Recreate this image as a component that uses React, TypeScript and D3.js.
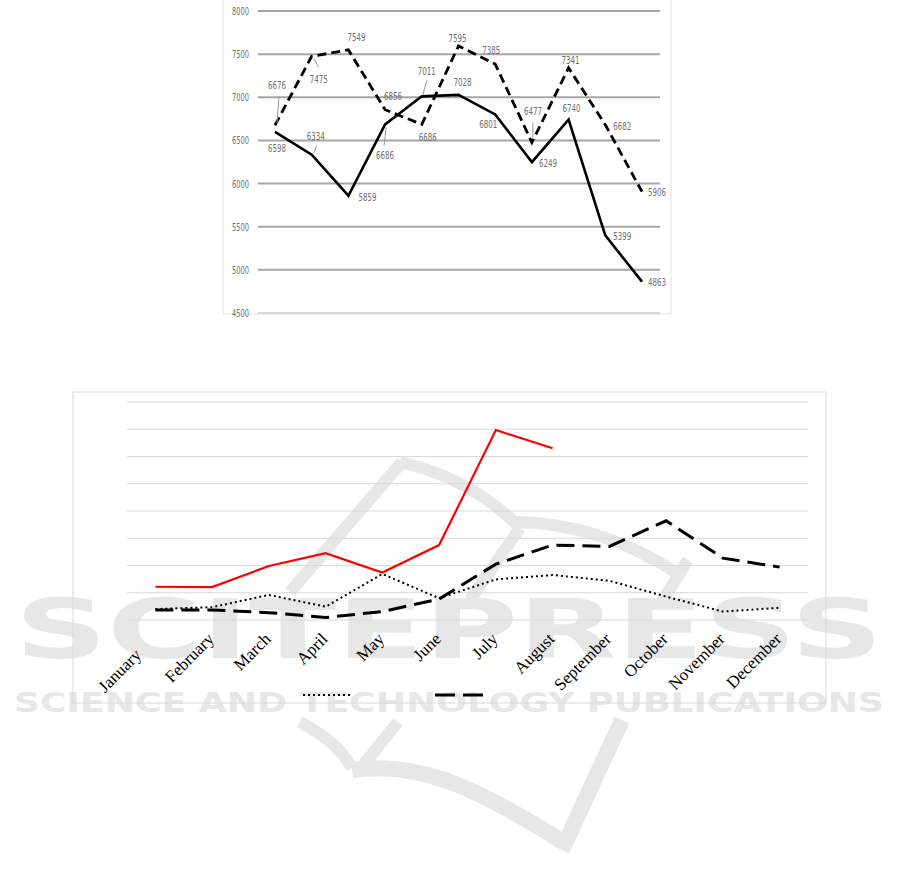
import React from "react";
import * as d3 from "d3";

// ---------- data ----------
const topTicks = [4500, 5000, 5500, 6000, 6500, 7000, 7500, 8000];
const topSolid = [6598, 6334, 5859, 6686, 7011, 7028, 6801, 6249, 6740, 5399, 4863];
const topDashed = [6676, 7475, 7549, 6856, 6686, 7595, 7385, 6477, 7341, 6682, 5906];

const months = [
  "January", "February", "March", "April", "May", "June",
  "July", "August", "September", "October", "November", "December",
];
const redSeries = [1220, 1210, 1980, 2450, 1740, 2750, 6970, 6300];
const dottedSeries = [400, 470, 920, 490, 1690, 800, 1490, 1650, 1440, 860, 310, 450];
const dashedSeries = [370, 370, 270, 90, 310, 770, 2050, 2750, 2700, 3640, 2270, 1940];

// ---------- layout (label offsets relative to points) ----------
const solidLabelOff: [number, number][] = [
  [2, 16], [4, -19], [19, 1], [0, 31], [5, -25], [4, -13], [-7, 10], [16, 1], [3, -12], [17, 1], [15, 0],
];
const dashedLabelOff: [number, number][] = [
  [2, -40], [7, 23], [8, -13], [8, -14], [6, 13], [-1, -8], [-4, -14], [1, -31], [2, -8], [17, 1], [15, 0],
];
const solidLeaders: { i: number; r: [number, number, number, number] }[] = [
  { i: 1, r: [5, -9, 2, -2] },
  { i: 3, r: [1, 3, -1, 21] },
  { i: 4, r: [1, -1, 5, -16] },
];
const dashedLeaders: { i: number; r: [number, number, number, number] }[] = [
  { i: 0, r: [4, -29, 2, -2] },
  { i: 1, r: [2, 2, 7, 11] },
  { i: 7, r: [1, -20, 1, -5] },
];

export default function App() {
  // top chart scales
  const tx = d3.scalePoint<number>().domain(d3.range(topSolid.length)).range([275, 642]);
  const ty = d3.scaleLinear().domain([4500, 8000]).range([313, 11]);
  const tLine = d3
    .line<number>()
    .x((_, i) => tx(i) as number)
    .y((d) => ty(d));

  // bottom chart scales
  const bx = d3.scaleBand<string>().domain(months).range([127, 808]);
  const bc = (i: number) => (bx(months[i]) as number) + bx.bandwidth() / 2;
  const by = d3.scaleLinear().domain([0, 8000]).range([620, 402]);
  const bLine = d3
    .line<number>()
    .x((_, i) => bc(i))
    .y((d) => by(d));

  const labelFont = "'DejaVu Sans Condensed', 'DejaVu Sans', sans-serif";
  const labelColor = "#707070";
  const wm = "#e6e7e6";

  const dataLabel = (v: number, x: number, y: number, key: string) => (
    <text
      key={key}
      x={x}
      y={y}
      dy="0.36em"
      textAnchor="middle"
      fontFamily={labelFont}
      fontSize={11}
      fill={labelColor}
      textLength={18}
      lengthAdjust="spacingAndGlyphs"
    >
      {v}
    </text>
  );

  return (
    <svg
      width={901}
      height={887}
      style={{ position: "absolute", left: 0, top: 0, background: "#fff" }}
    >
      {/* watermark */}
      <g>
        <text
          x={15}
          y={658}
          fontFamily="'DejaVu Sans', sans-serif"
          fontWeight="bold"
          fontSize={82}
          fill={wm}
          textLength={868}
          lengthAdjust="spacingAndGlyphs"
        >
          SCITEPRESS
        </text>
        <text
          x={14}
          y={712}
          fontFamily="'DejaVu Sans', sans-serif"
          fontWeight="bold"
          fontSize={26}
          fill={wm}
          textLength={870}
          lengthAdjust="spacingAndGlyphs"
        >
          SCIENCE AND TECHNOLOGY PUBLICATIONS
        </text>
        <g fill="none" stroke={wm} strokeWidth={12}>
          <path d="M402,462 L290,592" />
          <path d="M400,462 Q470,478 517,525" />
          <path d="M512,522 Q600,522 680,575" />
          <path d="M520,528 L470,600" />
          <path d="M688,560 L660,605" />
          <path d="M300,722 Q338,742 352,768" />
          <path d="M398,722 L364,764" />
          <path d="M352,770 C420,760 480,790 560,840" strokeWidth={16} />
          <path d="M622,720 L562,850" strokeWidth={16} />
        </g>
      </g>

      {/* ---------- top chart ---------- */}
      <rect x={223} y={-2} width={448} height={316} fill="none" stroke="#e2e2e2" strokeWidth={1} />
      {topTicks.map((t) => (
        <g key={t}>
          <line
            x1={258}
            x2={660}
            y1={ty(t)}
            y2={ty(t)}
            stroke={t === 4500 ? "#d9d9d9" : "#a6a6a6"}
            strokeWidth={2}
          />
          <text
            x={249}
            y={ty(t)}
            dy="0.36em"
            textAnchor="end"
            fontFamily={labelFont}
            fontSize={11}
            fill={labelColor}
            textLength={17}
            lengthAdjust="spacingAndGlyphs"
          >
            {t}
          </text>
        </g>
      ))}
      <path d={tLine(topDashed) || ""} fill="none" stroke="#000" strokeWidth={2.8} strokeDasharray="9,5" />
      <path d={tLine(topSolid) || ""} fill="none" stroke="#000" strokeWidth={2.6} strokeLinejoin="miter" />
      {solidLeaders.map(({ i, r }) => (
        <line
          key={"sl" + i}
          x1={(tx(i) as number) + r[0]}
          y1={ty(topSolid[i]) + r[1]}
          x2={(tx(i) as number) + r[2]}
          y2={ty(topSolid[i]) + r[3]}
          stroke="#9a9a9a"
          strokeWidth={1}
        />
      ))}
      {dashedLeaders.map(({ i, r }) => (
        <line
          key={"dl" + i}
          x1={(tx(i) as number) + r[0]}
          y1={ty(topDashed[i]) + r[1]}
          x2={(tx(i) as number) + r[2]}
          y2={ty(topDashed[i]) + r[3]}
          stroke="#9a9a9a"
          strokeWidth={1}
        />
      ))}
      {topSolid.map((v, i) =>
        dataLabel(v, (tx(i) as number) + solidLabelOff[i][0], ty(v) + solidLabelOff[i][1], "s" + i)
      )}
      {topDashed.map((v, i) =>
        dataLabel(v, (tx(i) as number) + dashedLabelOff[i][0], ty(v) + dashedLabelOff[i][1], "d" + i)
      )}

      {/* ---------- bottom chart ---------- */}
      <rect x={73} y={392} width={753} height={311} fill="none" stroke="#d9d9d9" strokeWidth={1} />
      {by.ticks(8).map((t) => (
        <line key={t} x1={127} x2={808} y1={by(t)} y2={by(t)} stroke="#d9d9d9" strokeWidth={1.2} />
      ))}
      <path d={bLine(redSeries) || ""} fill="none" stroke="#ff0000" strokeWidth={2.2} />
      <path d={bLine(dashedSeries) || ""} fill="none" stroke="#000" strokeWidth={3} strokeDasharray="18,8" />
      <path d={bLine(dottedSeries) || ""} fill="none" stroke="#000" strokeWidth={2} strokeDasharray="2,3" />

      {months.map((m, i) => {
        const ax = bc(i) + 3 + (i === 0 ? -16 : 0);
        const ay = 640 + (i === 0 ? 16 : 0);
        return (
          <text
            key={m}
            transform={`translate(${ax},${ay}) rotate(-45)`}
            textAnchor="end"
            fontFamily="'Liberation Serif', 'Times New Roman', serif"
            fontSize={17}
            fill="#000"
          >
            {m}
          </text>
        );
      })}

      {/* legend samples */}
      <line x1={303} x2={352} y1={695} y2={695} stroke="#000" strokeWidth={2} strokeDasharray="2,3" />
      <line x1={435} x2={483} y1={695} y2={695} stroke="#000" strokeWidth={3} strokeDasharray="20,8" />
    </svg>
  );
}
